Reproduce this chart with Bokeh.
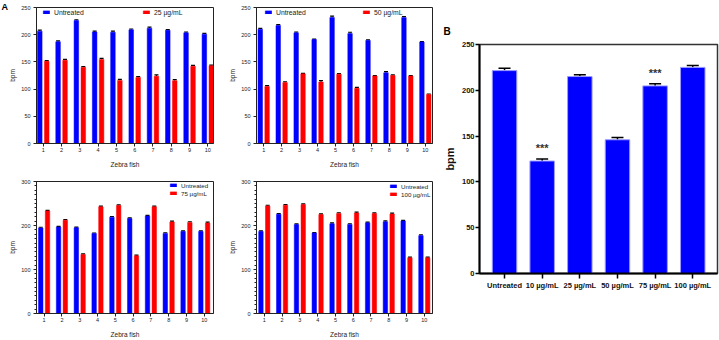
from bokeh.plotting import figure
from bokeh.models import (ColumnDataSource, Whisker, TeeHead, FixedTicker, Legend,
                          LegendItem, Range1d)
from bokeh.layouts import row, column
from bokeh.embed import file_html
from bokeh.resources import INLINE
from bokeh.core.properties import value

FONT = "Liberation Sans"
BLUE = "#0000FF"
RED = "#FF0000"

# ---------------- data: panel A ----------------
fish = [1, 2, 3, 4, 5, 6, 7, 8, 9, 10]

untreated_25 = [206.5, 187, 226, 205, 204.5, 209, 212, 208, 203.5, 201]
dose_25 = [151, 153, 140, 154.5, 116, 121.5, 123.5, 115.5, 142, 143]
err_untreated_25 = [2, 1.5, 1.5, 1.5, 2, 1.5, 2, 1.5, 1.5, 1.5]
err_dose_25 = [1.5, 1.5, 1.5, 2, 2, 1.5, 2.5, 2, 1.5, 1]

untreated_50 = [210, 217, 203.5, 191, 231.5, 202, 189.5, 130, 231.5, 186.5]
dose_50 = [105, 112, 128, 113, 127.5, 101.5, 124, 125, 124, 90]
err_untreated_50 = [1.5, 1.5, 1.5, 1, 2.5, 2.5, 1, 2, 2, 1]
err_dose_50 = [1.5, 1.5, 1, 2.5, 1, 1.5, 1, 1, 1, 1]

untreated_75 = [194.5, 196.5, 195, 182, 219, 216, 221.5, 182, 186.5, 186.5]
dose_75 = [233, 212, 134, 242.5, 245.5, 131, 242.5, 208, 207, 205.5]
err_untreated_75 = [1.5, 1.5, 1.5, 1, 1.5, 1.5, 1.5, 1.5, 1.5, 1.5]
err_dose_75 = [1.5, 1.5, 1.5, 1.5, 1.5, 1.5, 1.5, 2, 1.5, 2]

untreated_100 = [186.5, 225.5, 202, 183, 204, 202.5, 206, 208.5, 210, 177]
dose_100 = [244.5, 246, 247.5, 225, 227.5, 228.5, 227, 226, 126.5, 126.5]
err_untreated_100 = [1.5, 1.5, 1.5, 1, 2, 1.5, 1.5, 2, 1.5, 2]
err_dose_100 = [1.5, 1.5, 1.5, 1.5, 1.5, 2, 1.5, 2, 1.5, 1.5]

# ---------------- data: panel B ----------------
groups_b = ["Untreated", "10 \u00b5g/mL", "25 \u00b5g/mL", "50 \u00b5g/mL",
            "75 \u00b5g/mL", "100 \u00b5g/mL"]
bpm_b = [221.5, 122.8, 215, 146, 204.8, 225]
err_b = [2.5, 2.2, 2, 2.5, 2.4, 2]
sig_b = ["", "***", "", "", "***", ""]


def panel_a(untreated, dose, e_u, e_d, dose_label, y_end, y_ticks, minor,
            width, borders, xr, legend_mode, legend_pos, font_size, letter=None):
    left, right, top, bottom = borders
    p = figure(width=width, height=170, output_backend="svg", toolbar_location=None,
               x_range=Range1d(*xr), y_range=Range1d(0, y_end),
               min_border_left=left, min_border_right=right,
               min_border_top=top, min_border_bottom=bottom)
    p.xgrid.visible = False
    p.ygrid.visible = False
    p.outline_line_color = "#222222"
    p.outline_line_width = 1
    p.background_fill_color = "white"
    p.border_fill_color = "white"

    off = 0.19
    bw = 0.25
    src = ColumnDataSource(dict(
        xu=[f - off for f in fish], xd=[f + off for f in fish],
        u=untreated, d=dose,
        uu=[v + e for v, e in zip(untreated, e_u)],
        du=[v + e for v, e in zip(dose, e_d)],
    ))
    ru = p.vbar(x="xu", top="u", bottom=0, width=bw, source=src,
                fill_color=BLUE, line_color=BLUE, line_width=0.5)
    rd = p.vbar(x="xd", top="d", bottom=0, width=bw, source=src,
                fill_color=RED, line_color=RED, line_width=0.5)
    for xcol, lo, hi in (("xu", "u", "uu"), ("xd", "d", "du")):
        w = Whisker(base=xcol, upper=hi, lower=lo, source=src, dimension="height",
                    line_color="black", line_width=1,
                    upper_head=TeeHead(size=4, line_color="black", line_width=1.2),
                    lower_head=None)
        p.add_layout(w)

    for ax in (p.xaxis[0], p.yaxis[0]):
        ax.axis_line_color = "#222222"
        ax.axis_line_width = 1
        ax.major_tick_line_color = "#222222"
        ax.major_tick_in = 0
        ax.major_tick_out = 3
        ax.minor_tick_in = 0
        ax.major_label_text_font = FONT
        ax.major_label_text_font_size = "5.5px"
        ax.major_label_text_color = "#222222"
        ax.axis_label_text_font = FONT
        ax.axis_label_text_font_size = "6.5px"
        ax.axis_label_text_font_style = "normal"
        ax.axis_label_text_color = "#222222"
    p.xaxis.ticker = FixedTicker(ticks=fish)
    p.xaxis.major_label_standoff = 1
    p.xaxis.axis_label = "Zebra fish"
    p.xaxis.axis_label_standoff = 6
    p.xaxis.minor_tick_line_color = None
    p.yaxis.axis_label = "bpm"
    p.yaxis.axis_label_standoff = 2
    p.yaxis.major_label_standoff = 3
    p.yaxis.ticker = FixedTicker(ticks=y_ticks, minor_ticks=minor)
    p.yaxis.minor_tick_out = 2
    p.yaxis.minor_tick_line_color = "#222222"

    common = dict(border_line_color=None, background_fill_alpha=0, padding=0,
                  margin=0, glyph_width=8, glyph_height=4, label_standoff=4,
                  label_text_font=FONT, label_text_font_size=font_size,
                  label_text_color="#222222", label_height=8, spacing=0)
    if legend_mode == "split":
        l1 = Legend(items=[LegendItem(label="Untreated", renderers=[ru])],
                    location=legend_pos[0], **common)
        l2 = Legend(items=[LegendItem(label=dose_label, renderers=[rd])],
                    location=legend_pos[1], **common)
        p.add_layout(l1)
        p.add_layout(l2)
    else:
        lg = Legend(items=[LegendItem(label="Untreated", renderers=[ru]),
                           LegendItem(label=dose_label, renderers=[rd])],
                    location=legend_pos[0], **common)
        p.add_layout(lg)

    if letter:
        p.title.text = letter
        p.title.align = "left"
        p.title.offset = -35
        p.title.standoff = -8
        p.title.text_font = FONT
        p.title.text_font_size = "9px"
        p.title.text_font_style = "bold"
        p.title.text_color = "black"
    return p


ticks_250 = [0, 50, 100, 150, 200, 250]
ticks_300 = [0, 100, 200, 300]
minor_300 = list(range(0, 301, 10))

a1 = panel_a(untreated_25, dose_25, err_untreated_25, err_dose_25, "25 \u00b5g/mL",
             250, ticks_250, [], 226, (36, 13, 7, 26), (0.63, 10.31), "split",
             [(6, 127), (106, 127)], "6.8px", letter="A")
a2 = panel_a(untreated_50, dose_50, err_untreated_50, err_dose_50, "50 \u00b5g/mL",
             250, ticks_250, [], 210, (27, 4, 7, 26), (0.6, 10.4), "split",
             [(8, 127), (106, 127)], "6.8px")
a3 = panel_a(untreated_75, dose_75, err_untreated_75, err_dose_75, "75 \u00b5g/mL",
             300, ticks_300, minor_300, 226, (35, 13, 11, 23), (0.57, 10.52), "stack",
             [(133, 116)], "6.2px")
a4 = panel_a(untreated_100, dose_100, err_untreated_100, err_dose_100, "100 \u00b5g/mL",
             300, ticks_300, minor_300, 210, (27, 3, 11, 23), (0.56, 10.46), "stack",
             [(133, 115)], "6.2px")

# ---------------- panel B ----------------
xb = list(range(len(groups_b)))
srcb = ColumnDataSource(dict(
    x=xb, y=bpm_b,
    lo=[v - e for v, e in zip(bpm_b, err_b)],
    hi=[v + e for v, e in zip(bpm_b, err_b)],
    sig=sig_b,
    sy=[v + e + 12 for v, e in zip(bpm_b, err_b)],
))
b = figure(width=283, height=340, output_backend="svg", toolbar_location=None,
           x_range=Range1d(-0.665, 5.657), y_range=Range1d(0, 250),
           min_border_left=43, min_border_right=2, min_border_top=44,
           min_border_bottom=67)
b.xgrid.visible = False
b.ygrid.visible = False
b.outline_line_color = "#333333"
b.outline_line_width = 1.5
b.vbar(x="x", top="y", bottom=0, width=0.65, source=srcb,
       fill_color=BLUE, line_color="#9a9aff", line_width=1)
b.add_layout(Whisker(base="x", upper="hi", lower="lo", source=srcb, dimension="height",
                     line_color="black", line_width=1.5,
                     upper_head=TeeHead(size=12, line_color="black", line_width=1.5),
                     lower_head=TeeHead(size=12, line_color="black", line_width=1.5)))
b.text(x="x", y="sy", text="sig", source=srcb, text_align="center",
       text_baseline="alphabetic", text_font=value(FONT), text_font_size="11px",
       text_font_style="bold", text_color="#333333")
for ax in (b.xaxis[0], b.yaxis[0]):
    ax.axis_line_color = "black"
    ax.axis_line_width = 2
    ax.major_tick_line_color = "black"
    ax.major_tick_line_width = 1.5
    ax.major_tick_in = 0
    ax.minor_tick_line_color = None
    ax.major_label_text_font = FONT
    ax.major_label_text_font_size = "7.5px"
    ax.major_label_text_font_style = "bold"
    ax.major_label_text_color = "#111111"
    ax.axis_label_text_font = FONT
    ax.axis_label_text_font_style = "bold"
    ax.axis_label_text_color = "#111111"
b.xaxis.ticker = FixedTicker(ticks=xb)
b.xaxis.major_label_overrides = {i: g for i, g in zip(xb, groups_b)}
b.xaxis.major_tick_out = 5
b.xaxis.major_label_standoff = 2
b.yaxis.ticker = FixedTicker(ticks=ticks_250)
b.yaxis.major_tick_out = 4
b.yaxis.major_label_standoff = 1
b.yaxis.axis_label = "bpm"
b.yaxis.axis_label_text_font_size = "11px"
b.yaxis.axis_label_standoff = 3
b.title.text = "B"
b.title.align = "left"
b.title.offset = -36
b.title.standoff = 16
b.title.text_font = FONT
b.title.text_font_size = "10px"
b.title.text_font_style = "bold"
b.title.text_color = "black"

layout = row(column(a1, a3), column(a2, a4), b)
open("out.html", "w").write(file_html(layout, INLINE))
